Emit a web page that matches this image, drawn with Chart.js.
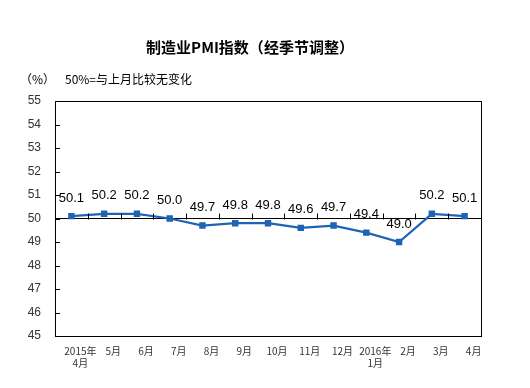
<!DOCTYPE html>
<html><head><meta charset="utf-8">
<script src="https://cdn.jsdelivr.net/npm/chart.js@4"></script>
<style>html,body{margin:0;padding:0;background:#fff;}canvas{display:block;}</style>
</head><body>
<canvas id="c" width="530" height="388"></canvas>
<script>
const categories = [["2015年","4月"],"5月","6月","7月","8月","9月","10月","11月","12月",["2016年","1月"],"2月","3月","4月"];
const pmiValues = [50.1,50.2,50.2,50.0,49.7,49.8,49.8,49.6,49.7,49.4,49.0,50.2,50.1];
const yTicks = [45,46,47,48,49,50,51,52,53,54,55];
const titleText = "制造业PMI指数（经季节调整）";
const unitText = "（%）";
const noteText = "50%=与上月比较无变化";
const baseValue = 50;

const cjk = '"Noto Sans CJK SC", "Liberation Sans", sans-serif';

const decor = {
  id: 'decor',
  afterDraw(chart) {
    const {ctx, chartArea: a, scales: {x, y}} = chart;
    ctx.save();
    ctx.strokeStyle = '#000'; ctx.lineWidth = 1;
    ctx.strokeRect(Math.round(a.left)+0.5, Math.round(a.top)+0.5, Math.round(a.right-a.left), Math.round(a.bottom-a.top));
    yTicks.forEach(v => {
      const py = Math.round(y.getPixelForValue(v)) + 0.5;
      ctx.beginPath(); ctx.moveTo(a.left, py); ctx.lineTo(a.left+5, py); ctx.stroke();
    });
    const by = Math.round(y.getPixelForValue(baseValue)) + 0.5;
    for (let i = 1; i < categories.length; i++) {
      const px = Math.round((x.getPixelForValue(i-1) + x.getPixelForValue(i)) / 2) + 0.5;
      ctx.beginPath(); ctx.moveTo(px, by); ctx.lineTo(px, by-6); ctx.stroke();
    }
    ctx.fillStyle = '#000';
    ctx.font = '13px "Liberation Sans", Arial, sans-serif';
    ctx.textAlign = 'center'; ctx.textBaseline = 'middle';
    const meta = chart.getDatasetMeta(0);
    meta.data.forEach((pt, i) => {
      ctx.fillText(pmiValues[i].toFixed(1), pt.x, pt.y - 18);
    });
    ctx.font = 'bold 15px ' + cjk;
    ctx.fillText(titleText, 250, 47);
    ctx.font = '12px ' + cjk;
    ctx.textAlign = 'left';
    ctx.fillText(unitText, 20, 79);
    ctx.fillText(noteText, 65, 79);
    ctx.restore();
  }
};

new Chart(document.getElementById('c'), {
  type: 'line',
  data: {
    labels: categories,
    datasets: [{
      data: pmiValues,
      borderColor: '#1f64b4',
      backgroundColor: '#1f64b4',
      borderWidth: 2.2,
      pointStyle: 'rect',
      pointRadius: 3,
      pointHoverRadius: 3,
      tension: 0
    }]
  },
  options: {
    responsive: false,
    animation: false,
    events: [],
    layout: {padding: {top: 101, right: 49, left: 0, bottom: 0}},
    plugins: {legend: {display: false}, tooltip: {enabled: false}, title: {display: false}},
    scales: {
      x: {
        offset: true,
        grid: {display: false, drawTicks: false},
        border: {display: false},
        ticks: {color: '#333', font: {size: 10, family: cjk}, labelOffset: 9, padding: 9, maxRotation: 0, autoSkip: false},
        afterFit(s) { s.height = 52; }
      },
      y: {
        min: 45, max: 55,
        afterBuildTicks(s) { s.ticks = yTicks.map(v => ({value: v})); },
        grid: {
          drawTicks: false,
          color: c => c.tick && c.tick.value === baseValue ? '#000' : 'rgba(0,0,0,0)',
          lineWidth: 1
        },
        border: {display: false},
        ticks: {color: '#333', font: {size: 12, family: '"Liberation Sans", Arial, sans-serif'}, padding: 14},
        afterFit(s) { s.width = 55; }
      }
    }
  },
  plugins: [decor]
});
</script>
</body></html>
